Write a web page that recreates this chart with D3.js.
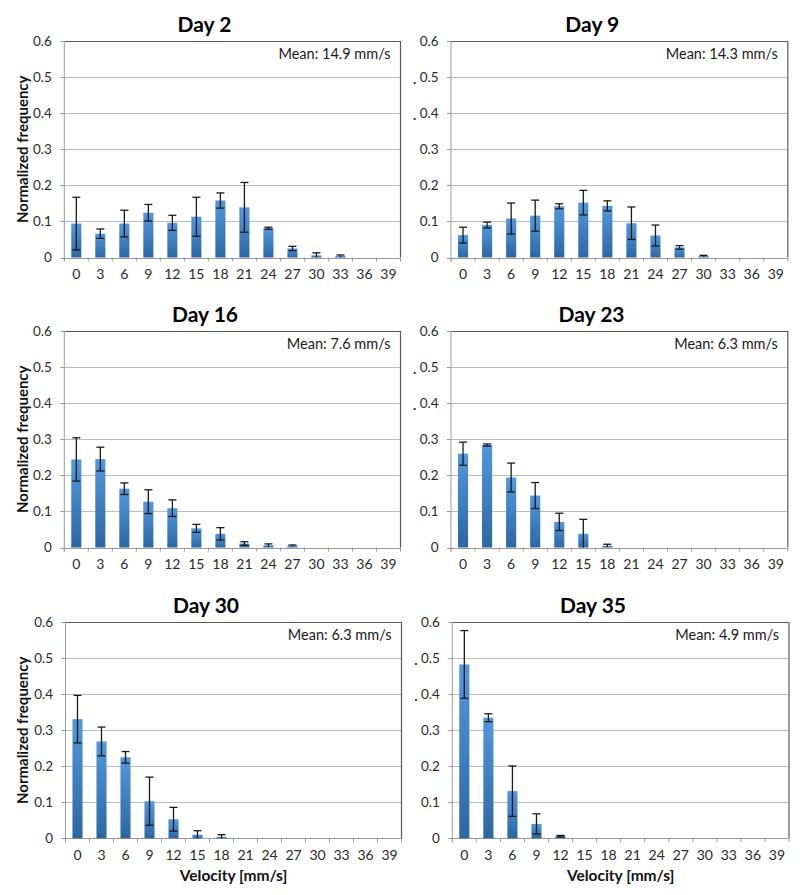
<!DOCTYPE html>
<html>
<head>
<meta charset="utf-8">
<script src="https://cdn.jsdelivr.net/npm/d3@7"></script>
<style>
  html, body { margin: 0; padding: 0; background: #fff; }
  svg { display: block; }
  text { font-family: Lato, "Open Sans", sans-serif; }
</style>
</head>
<body>
<svg id="chart" width="800" height="895"></svg>
<script>
// ---------- data ----------
const categories = [0, 3, 6, 9, 12, 15, 18, 21, 24, 27, 30, 33, 36, 39];
const yTicks = [0, 0.1, 0.2, 0.3, 0.4, 0.5, 0.6];
const panelTitles = ["Day 2", "Day 9", "Day 16", "Day 23", "Day 30", "Day 35"];
const meanLabels = ["Mean: 14.9 mm/s", "Mean: 14.3 mm/s", "Mean: 7.6 mm/s", "Mean: 6.3 mm/s", "Mean: 6.3 mm/s", "Mean: 4.9 mm/s"];
const xAxisTitle = "Velocity [mm/s]";
const yAxisTitle = "Normalized frequency";

const day2     = [0.094, 0.066, 0.094, 0.124, 0.096, 0.113, 0.158, 0.139, 0.081, 0.025, 0.006, 0.004, 0, 0];
const day2Err  = [0.073, 0.013, 0.037, 0.023, 0.021, 0.054, 0.021, 0.069, 0.003, 0.006, 0.007, 0.003, 0, 0];
const day9     = [0.062, 0.090, 0.108, 0.116, 0.142, 0.152, 0.143, 0.095, 0.061, 0.028, 0.004, 0, 0, 0];
const day9Err  = [0.022, 0.008, 0.043, 0.043, 0.007, 0.034, 0.014, 0.045, 0.029, 0.005, 0.002, 0, 0, 0];
const day16    = [0.244, 0.245, 0.163, 0.127, 0.109, 0.053, 0.038, 0.011, 0.006, 0.005, 0, 0, 0, 0];
const day16Err = [0.060, 0.033, 0.016, 0.033, 0.023, 0.011, 0.017, 0.005, 0.004, 0.002, 0, 0, 0, 0];
const day23    = [0.260, 0.284, 0.194, 0.144, 0.071, 0.038, 0.005, 0, 0, 0, 0, 0, 0, 0];
const day23Err = [0.032, 0.003, 0.040, 0.036, 0.024, 0.040, 0.004, 0, 0, 0, 0, 0, 0, 0];
const day30    = [0.331, 0.269, 0.225, 0.103, 0.053, 0.010, 0.004, 0, 0, 0, 0, 0, 0, 0];
const day30Err = [0.066, 0.040, 0.016, 0.067, 0.033, 0.011, 0.006, 0, 0, 0, 0, 0, 0, 0];
const day35    = [0.483, 0.335, 0.131, 0.040, 0.006, 0, 0, 0, 0, 0, 0, 0, 0, 0];
const day35Err = [0.094, 0.011, 0.070, 0.028, 0.002, 0, 0, 0, 0, 0, 0, 0, 0, 0];

const seriesValues = [day2, day9, day16, day23, day30, day35];
const seriesErrors = [day2Err, day9Err, day16Err, day23Err, day30Err, day35Err];

// ---------- layout ----------
const svg = d3.select("#chart");
const defs = svg.append("defs");
const grad = defs.append("linearGradient")
  .attr("id", "barGrad").attr("x1", 0).attr("y1", 0).attr("x2", 0).attr("y2", 1);
grad.append("stop").attr("offset", "0%").attr("stop-color", "#5298de");
grad.append("stop").attr("offset", "100%").attr("stop-color", "#2c67a2");

const panels = [
  { x0: 64.3, x1: 400.5, y0: 41, y1: 257.5, left: true,  bottom: false },
  { x0: 451,  x1: 787.8, y0: 41, y1: 257.5, left: false, bottom: false },
  { x0: 64.3, x1: 400.5, y0: 331, y1: 547.5, left: true,  bottom: false },
  { x0: 451,  x1: 787.8, y0: 331, y1: 547.5, left: false, bottom: false },
  { x0: 65.5, x1: 401.5, y0: 622.3, y1: 838.3, left: true,  bottom: true },
  { x0: 452.3, x1: 789,  y0: 622.3, y1: 838.3, left: false, bottom: true }
];
const titleCx = [204.5, 592.3, 205, 591.5, 206, 593];

panels.forEach((p, i) => {
  const g = svg.append("g");
  const x = d3.scaleBand().domain(categories).range([p.x0, p.x1])
    .paddingInner(0.58).paddingOuter(0.29);
  const y = d3.scaleLinear().domain([0, 0.6]).range([p.y1, p.y0]);
  const step = x.step();

  // gridlines
  g.selectAll(".grid").data(yTicks.filter(t => t > 0 && t < 0.6)).enter()
    .append("line")
    .attr("x1", p.x0).attr("x2", p.x1)
    .attr("y1", d => Math.round(y(d)) + 0.5).attr("y2", d => Math.round(y(d)) + 0.5)
    .attr("stroke", "#bcbcbc").attr("stroke-width", 1);

  // top and right border
  g.append("line").attr("x1", p.x0).attr("x2", p.x1)
    .attr("y1", Math.round(y(0.6)) + 0.5).attr("y2", Math.round(y(0.6)) + 0.5)
    .attr("stroke", "#5a5a5a").attr("stroke-width", 1.2);
  g.append("line").attr("x1", p.x1).attr("x2", p.x1)
    .attr("y1", y(0.6)).attr("y2", y(0))
    .attr("stroke", "#5a5a5a").attr("stroke-width", 1.2);

  // left axis
  g.append("line").attr("x1", p.x0).attr("x2", p.x0)
    .attr("y1", y(0.6)).attr("y2", y(0) + 4)
    .attr("stroke", "#9a9a9a").attr("stroke-width", 1);
  g.selectAll(".ytick").data(yTicks).enter().append("line")
    .attr("x1", p.x0 - 4).attr("x2", p.x0)
    .attr("y1", d => Math.round(y(d)) + 0.5).attr("y2", d => Math.round(y(d)) + 0.5)
    .attr("stroke", "#9a9a9a");
  g.selectAll(".ylab").data(yTicks).enter().append("text")
    .attr("x", p.x0 - 12.5).attr("y", d => y(d)).attr("dy", "0.36em")
    .attr("text-anchor", "end").attr("font-size", 13.5).attr("fill", "#2a2a2a")
    .text(d => d === 0 ? "0" : d3.format(".1f")(d));

  if (!p.left) {
    g.selectAll(".dot").data([0.5, 0.4]).enter().append("text")
      .attr("x", p.x0 - 38).attr("y", d => y(d) + 1.5).attr("dy", "0.36em")
      .attr("text-anchor", "start").attr("font-size", 14).attr("font-weight", "bold").attr("fill", "#2a2a2a")
      .text(".");
  }

  // bottom axis
  g.append("line").attr("x1", p.x0).attr("x2", p.x1)
    .attr("y1", Math.round(y(0)) + 0.5).attr("y2", Math.round(y(0)) + 0.5)
    .attr("stroke", "#9a9a9a");
  g.selectAll(".xtick").data(d3.range(categories.length + 1)).enter().append("line")
    .attr("x1", k => p.x0 + k * step).attr("x2", k => p.x0 + k * step)
    .attr("y1", y(0)).attr("y2", y(0) + 4)
    .attr("stroke", "#9a9a9a");
  g.selectAll(".xlab").data(categories).enter().append("text")
    .attr("x", d => x(d) + x.bandwidth() / 2).attr("y", p.y1 + 21.5)
    .attr("text-anchor", "middle").attr("font-size", 14).attr("fill", "#2a2a2a")
    .text(d => d);

  // bars
  const vals = seriesValues[i], errs = seriesErrors[i];
  g.selectAll(".bar").data(categories).enter().append("rect")
    .attr("x", (d) => x(d)).attr("width", x.bandwidth())
    .attr("y", (d, k) => y(vals[k]))
    .attr("height", (d, k) => y(0) - y(vals[k]))
    .attr("fill", "url(#barGrad)");

  // error bars
  const eb = categories.map((c, k) => ({ c, v: vals[k], e: errs[k] })).filter(d => d.v > 0 && d.e > 0);
  const capW = 4;
  const ebg = g.selectAll(".eb").data(eb).enter().append("g")
    .attr("stroke", "#1a1a1a").attr("stroke-width", 1.3);
  ebg.append("line")
    .attr("x1", d => x(d.c) + x.bandwidth() / 2).attr("x2", d => x(d.c) + x.bandwidth() / 2)
    .attr("y1", d => y(d.v + d.e)).attr("y2", d => y(Math.max(0, d.v - d.e)));
  ebg.append("line")
    .attr("x1", d => x(d.c) + x.bandwidth() / 2 - capW).attr("x2", d => x(d.c) + x.bandwidth() / 2 + capW)
    .attr("y1", d => y(d.v + d.e)).attr("y2", d => y(d.v + d.e));
  ebg.filter(d => d.v - d.e > 0.003).append("line")
    .attr("x1", d => x(d.c) + x.bandwidth() / 2 - capW).attr("x2", d => x(d.c) + x.bandwidth() / 2 + capW)
    .attr("y1", d => y(d.v - d.e)).attr("y2", d => y(d.v - d.e));

  // mean label
  g.append("text").attr("x", p.x1 - 10).attr("y", p.y0 + 17.5)
    .attr("text-anchor", "end").attr("font-size", 14.5).attr("fill", "#1a1a1a")
    .text(meanLabels[i]);

  // title
  g.append("text").attr("x", titleCx[i]).attr("y", p.y0 - 9.5)
    .attr("text-anchor", "middle").attr("font-size", 21).attr("font-weight", "bold")
    .attr("fill", "#000").text(panelTitles[i]);

  // y axis title
  if (p.left) {
    const cy = (p.y0 + p.y1) / 2;
    g.append("text")
      .attr("transform", `translate(27.5,${cy}) rotate(-90)`)
      .attr("text-anchor", "middle").attr("font-size", 15).attr("font-weight", "bold")
      .attr("fill", "#111").text(yAxisTitle);
  }
  // x axis title
  if (p.bottom) {
    g.append("text").attr("x", (p.x0 + p.x1) / 2).attr("y", 881)
      .attr("text-anchor", "middle").attr("font-size", 15.5).attr("font-weight", "bold")
      .attr("fill", "#111").text(xAxisTitle);
  }
});
</script>
</body>
</html>
